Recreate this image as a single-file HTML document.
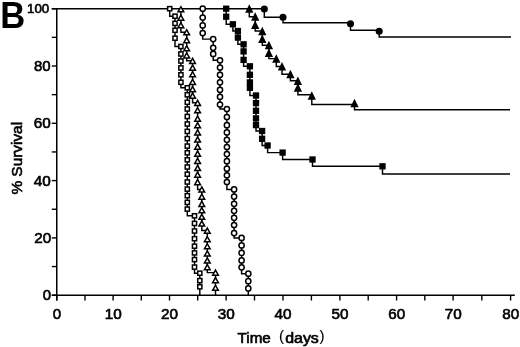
<!DOCTYPE html>
<html><head><meta charset="utf-8"><title>B</title>
<style>html,body{margin:0;padding:0;background:#fff}body{width:520px;height:347px;overflow:hidden}</style>
</head><body>
<svg width="520" height="347" viewBox="0 0 520 347" style="display:block">
<path d="M56.75 8.1 V300.6" fill="none" stroke="#000" stroke-width="1.5"/>
<path d="M51.8 295.3 H514.8" fill="none" stroke="#000" stroke-width="1.5"/>
<path d="M51.8 8.7 H264.3" fill="none" stroke="#000" stroke-width="1.45"/>
<path d="M51.8 295.20 H56.75" stroke="#000" stroke-width="1.4"/>
<path d="M51.8 266.55 H56.75" stroke="#000" stroke-width="1.4"/>
<path d="M51.8 237.90 H56.75" stroke="#000" stroke-width="1.4"/>
<path d="M51.8 209.25 H56.75" stroke="#000" stroke-width="1.4"/>
<path d="M51.8 180.60 H56.75" stroke="#000" stroke-width="1.4"/>
<path d="M51.8 151.95 H56.75" stroke="#000" stroke-width="1.4"/>
<path d="M51.8 123.30 H56.75" stroke="#000" stroke-width="1.4"/>
<path d="M51.8 94.65 H56.75" stroke="#000" stroke-width="1.4"/>
<path d="M51.8 66.00 H56.75" stroke="#000" stroke-width="1.4"/>
<path d="M51.8 37.35 H56.75" stroke="#000" stroke-width="1.4"/>
<path d="M51.8 8.70 H56.75" stroke="#000" stroke-width="1.4"/>
<path d="M56.75 295.2 V300.5" stroke="#000" stroke-width="1.4"/>
<path d="M85.00 295.2 V300.5" stroke="#000" stroke-width="1.4"/>
<path d="M113.10 295.2 V300.5" stroke="#000" stroke-width="1.4"/>
<path d="M141.30 295.2 V300.5" stroke="#000" stroke-width="1.4"/>
<path d="M169.50 295.2 V300.5" stroke="#000" stroke-width="1.4"/>
<path d="M197.70 295.2 V300.5" stroke="#000" stroke-width="1.4"/>
<path d="M226.10 295.2 V300.5" stroke="#000" stroke-width="1.4"/>
<path d="M254.50 295.2 V300.5" stroke="#000" stroke-width="1.4"/>
<path d="M283.00 295.2 V300.5" stroke="#000" stroke-width="1.4"/>
<path d="M311.40 295.2 V300.5" stroke="#000" stroke-width="1.4"/>
<path d="M339.90 295.2 V300.5" stroke="#000" stroke-width="1.4"/>
<path d="M368.20 295.2 V300.5" stroke="#000" stroke-width="1.4"/>
<path d="M396.60 295.2 V300.5" stroke="#000" stroke-width="1.4"/>
<path d="M424.80 295.2 V300.5" stroke="#000" stroke-width="1.4"/>
<path d="M453.10 295.2 V300.5" stroke="#000" stroke-width="1.4"/>
<path d="M481.80 295.2 V300.5" stroke="#000" stroke-width="1.4"/>
<path d="M510.60 295.2 V300.5" stroke="#000" stroke-width="1.4"/>
<path d="M169.7 8.7 V16.2 H175 V23.4 H175 V30.3 H175 V38.2 H175 V46.5 H180.9 V54 H180.9 V61 H180.9 V67.9 H180.9 V74.8 H180.9 V82.3 H180.9 V87.8 H187.3 V94.8 H187.3 V102.3 H187.3 V109 H187.3 V116.5 H187.3 V124 H187.3 V131.4 H187.3 V138.6 H187.3 V146.1 H187.3 V152.8 H187.3 V159.8 H187.3 V167 H187.3 V174.2 H187.3 V182 H187.3 V189.1 H187.3 V195.7 H187.3 V202.4 H187.3 V209.1 H187.3 V215.8 H194.5 V223.4 H194.5 V231 H194.5 V238.7 H194.5 V246.2 H194.5 V252.9 H194.5 V259.6 H194.5 V267.1 H194.5 V273.2 H199.8 V280.6 H199.8 V286.8 H199.8 V295.2" fill="none" stroke="#000" stroke-width="1.45" stroke-linejoin="miter"/>
<rect x="167.62" y="6.62" width="4.15" height="4.15" fill="#fff" stroke="#000" stroke-width="1.5"/>
<rect x="172.93" y="14.12" width="4.15" height="4.15" fill="#fff" stroke="#000" stroke-width="1.5"/>
<rect x="172.93" y="21.32" width="4.15" height="4.15" fill="#fff" stroke="#000" stroke-width="1.5"/>
<rect x="172.93" y="28.23" width="4.15" height="4.15" fill="#fff" stroke="#000" stroke-width="1.5"/>
<rect x="172.93" y="36.12" width="4.15" height="4.15" fill="#fff" stroke="#000" stroke-width="1.5"/>
<rect x="178.83" y="44.42" width="4.15" height="4.15" fill="#fff" stroke="#000" stroke-width="1.5"/>
<rect x="178.83" y="51.92" width="4.15" height="4.15" fill="#fff" stroke="#000" stroke-width="1.5"/>
<rect x="178.83" y="58.92" width="4.15" height="4.15" fill="#fff" stroke="#000" stroke-width="1.5"/>
<rect x="178.83" y="65.83" width="4.15" height="4.15" fill="#fff" stroke="#000" stroke-width="1.5"/>
<rect x="178.83" y="72.72" width="4.15" height="4.15" fill="#fff" stroke="#000" stroke-width="1.5"/>
<rect x="178.83" y="80.22" width="4.15" height="4.15" fill="#fff" stroke="#000" stroke-width="1.5"/>
<rect x="185.23" y="85.72" width="4.15" height="4.15" fill="#fff" stroke="#000" stroke-width="1.5"/>
<rect x="185.23" y="92.72" width="4.15" height="4.15" fill="#fff" stroke="#000" stroke-width="1.5"/>
<rect x="185.23" y="100.22" width="4.15" height="4.15" fill="#fff" stroke="#000" stroke-width="1.5"/>
<rect x="185.23" y="106.92" width="4.15" height="4.15" fill="#fff" stroke="#000" stroke-width="1.5"/>
<rect x="185.23" y="114.42" width="4.15" height="4.15" fill="#fff" stroke="#000" stroke-width="1.5"/>
<rect x="185.23" y="121.92" width="4.15" height="4.15" fill="#fff" stroke="#000" stroke-width="1.5"/>
<rect x="185.23" y="129.33" width="4.15" height="4.15" fill="#fff" stroke="#000" stroke-width="1.5"/>
<rect x="185.23" y="136.53" width="4.15" height="4.15" fill="#fff" stroke="#000" stroke-width="1.5"/>
<rect x="185.23" y="144.03" width="4.15" height="4.15" fill="#fff" stroke="#000" stroke-width="1.5"/>
<rect x="185.23" y="150.73" width="4.15" height="4.15" fill="#fff" stroke="#000" stroke-width="1.5"/>
<rect x="185.23" y="157.73" width="4.15" height="4.15" fill="#fff" stroke="#000" stroke-width="1.5"/>
<rect x="185.23" y="164.93" width="4.15" height="4.15" fill="#fff" stroke="#000" stroke-width="1.5"/>
<rect x="185.23" y="172.12" width="4.15" height="4.15" fill="#fff" stroke="#000" stroke-width="1.5"/>
<rect x="185.23" y="179.93" width="4.15" height="4.15" fill="#fff" stroke="#000" stroke-width="1.5"/>
<rect x="185.23" y="187.03" width="4.15" height="4.15" fill="#fff" stroke="#000" stroke-width="1.5"/>
<rect x="185.23" y="193.62" width="4.15" height="4.15" fill="#fff" stroke="#000" stroke-width="1.5"/>
<rect x="185.23" y="200.33" width="4.15" height="4.15" fill="#fff" stroke="#000" stroke-width="1.5"/>
<rect x="185.23" y="207.03" width="4.15" height="4.15" fill="#fff" stroke="#000" stroke-width="1.5"/>
<rect x="192.43" y="213.73" width="4.15" height="4.15" fill="#fff" stroke="#000" stroke-width="1.5"/>
<rect x="192.43" y="221.33" width="4.15" height="4.15" fill="#fff" stroke="#000" stroke-width="1.5"/>
<rect x="192.43" y="228.93" width="4.15" height="4.15" fill="#fff" stroke="#000" stroke-width="1.5"/>
<rect x="192.43" y="236.62" width="4.15" height="4.15" fill="#fff" stroke="#000" stroke-width="1.5"/>
<rect x="192.43" y="244.12" width="4.15" height="4.15" fill="#fff" stroke="#000" stroke-width="1.5"/>
<rect x="192.43" y="250.83" width="4.15" height="4.15" fill="#fff" stroke="#000" stroke-width="1.5"/>
<rect x="192.43" y="257.53" width="4.15" height="4.15" fill="#fff" stroke="#000" stroke-width="1.5"/>
<rect x="192.43" y="265.03" width="4.15" height="4.15" fill="#fff" stroke="#000" stroke-width="1.5"/>
<rect x="197.73" y="271.12" width="4.15" height="4.15" fill="#fff" stroke="#000" stroke-width="1.5"/>
<rect x="197.73" y="278.53" width="4.15" height="4.15" fill="#fff" stroke="#000" stroke-width="1.5"/>
<rect x="197.73" y="284.73" width="4.15" height="4.15" fill="#fff" stroke="#000" stroke-width="1.5"/>
<path d="M180.9 8.7 V17.6 H180.9 V25.1 H180.9 V32.2 H186.7 V40.1 H186.7 V48.2 H186.7 V55.3 H186.7 V60.8 H192.6 V67.5 H192.6 V74.2 H192.6 V81.8 H192.6 V89 H192.6 V95.6 H192.6 V102.8 H197.6 V110.2 H197.6 V118.5 H197.6 V125.2 H197.6 V132.4 H197.6 V139.4 H197.6 V146.5 H197.6 V153.6 H197.6 V160.8 H197.6 V167.9 H197.6 V174.5 H197.6 V182 H197.6 V189.4 H201.8 V196.6 H201.8 V203.8 H201.8 V210 H201.8 V216.7 H201.8 V223.4 H201.8 V230.5 H207.3 V239 H207.3 V246.2 H207.3 V253.4 H207.3 V260.4 H207.3 V267 H207.3 V272.6 H215.5 V280.1 H215.5 V287.7 H215.5 V295.2" fill="none" stroke="#000" stroke-width="1.45" stroke-linejoin="miter"/>
<polygon points="180.90,6.75 183.75,11.85 178.05,11.85" fill="#fff" stroke="#000" stroke-width="1.5" stroke-linejoin="miter"/>
<polygon points="180.90,15.15 183.75,20.25 178.05,20.25" fill="#fff" stroke="#000" stroke-width="1.5" stroke-linejoin="miter"/>
<polygon points="180.90,22.65 183.75,27.75 178.05,27.75" fill="#fff" stroke="#000" stroke-width="1.5" stroke-linejoin="miter"/>
<polygon points="186.70,29.75 189.55,34.85 183.85,34.85" fill="#fff" stroke="#000" stroke-width="1.5" stroke-linejoin="miter"/>
<polygon points="186.70,37.65 189.55,42.75 183.85,42.75" fill="#fff" stroke="#000" stroke-width="1.5" stroke-linejoin="miter"/>
<polygon points="186.70,45.75 189.55,50.85 183.85,50.85" fill="#fff" stroke="#000" stroke-width="1.5" stroke-linejoin="miter"/>
<polygon points="186.70,52.85 189.55,57.95 183.85,57.95" fill="#fff" stroke="#000" stroke-width="1.5" stroke-linejoin="miter"/>
<polygon points="192.60,58.35 195.45,63.45 189.75,63.45" fill="#fff" stroke="#000" stroke-width="1.5" stroke-linejoin="miter"/>
<polygon points="192.60,65.05 195.45,70.15 189.75,70.15" fill="#fff" stroke="#000" stroke-width="1.5" stroke-linejoin="miter"/>
<polygon points="192.60,71.75 195.45,76.85 189.75,76.85" fill="#fff" stroke="#000" stroke-width="1.5" stroke-linejoin="miter"/>
<polygon points="192.60,79.35 195.45,84.45 189.75,84.45" fill="#fff" stroke="#000" stroke-width="1.5" stroke-linejoin="miter"/>
<polygon points="192.60,86.55 195.45,91.65 189.75,91.65" fill="#fff" stroke="#000" stroke-width="1.5" stroke-linejoin="miter"/>
<polygon points="192.60,93.15 195.45,98.25 189.75,98.25" fill="#fff" stroke="#000" stroke-width="1.5" stroke-linejoin="miter"/>
<polygon points="197.60,100.35 200.45,105.45 194.75,105.45" fill="#fff" stroke="#000" stroke-width="1.5" stroke-linejoin="miter"/>
<polygon points="197.60,107.75 200.45,112.85 194.75,112.85" fill="#fff" stroke="#000" stroke-width="1.5" stroke-linejoin="miter"/>
<polygon points="197.60,116.05 200.45,121.15 194.75,121.15" fill="#fff" stroke="#000" stroke-width="1.5" stroke-linejoin="miter"/>
<polygon points="197.60,122.75 200.45,127.85 194.75,127.85" fill="#fff" stroke="#000" stroke-width="1.5" stroke-linejoin="miter"/>
<polygon points="197.60,129.95 200.45,135.05 194.75,135.05" fill="#fff" stroke="#000" stroke-width="1.5" stroke-linejoin="miter"/>
<polygon points="197.60,136.95 200.45,142.05 194.75,142.05" fill="#fff" stroke="#000" stroke-width="1.5" stroke-linejoin="miter"/>
<polygon points="197.60,144.05 200.45,149.15 194.75,149.15" fill="#fff" stroke="#000" stroke-width="1.5" stroke-linejoin="miter"/>
<polygon points="197.60,151.15 200.45,156.25 194.75,156.25" fill="#fff" stroke="#000" stroke-width="1.5" stroke-linejoin="miter"/>
<polygon points="197.60,158.35 200.45,163.45 194.75,163.45" fill="#fff" stroke="#000" stroke-width="1.5" stroke-linejoin="miter"/>
<polygon points="197.60,165.45 200.45,170.55 194.75,170.55" fill="#fff" stroke="#000" stroke-width="1.5" stroke-linejoin="miter"/>
<polygon points="197.60,172.05 200.45,177.15 194.75,177.15" fill="#fff" stroke="#000" stroke-width="1.5" stroke-linejoin="miter"/>
<polygon points="197.60,179.55 200.45,184.65 194.75,184.65" fill="#fff" stroke="#000" stroke-width="1.5" stroke-linejoin="miter"/>
<polygon points="201.80,186.95 204.65,192.05 198.95,192.05" fill="#fff" stroke="#000" stroke-width="1.5" stroke-linejoin="miter"/>
<polygon points="201.80,194.15 204.65,199.25 198.95,199.25" fill="#fff" stroke="#000" stroke-width="1.5" stroke-linejoin="miter"/>
<polygon points="201.80,201.35 204.65,206.45 198.95,206.45" fill="#fff" stroke="#000" stroke-width="1.5" stroke-linejoin="miter"/>
<polygon points="201.80,207.55 204.65,212.65 198.95,212.65" fill="#fff" stroke="#000" stroke-width="1.5" stroke-linejoin="miter"/>
<polygon points="201.80,214.25 204.65,219.35 198.95,219.35" fill="#fff" stroke="#000" stroke-width="1.5" stroke-linejoin="miter"/>
<polygon points="201.80,220.95 204.65,226.05 198.95,226.05" fill="#fff" stroke="#000" stroke-width="1.5" stroke-linejoin="miter"/>
<polygon points="207.30,228.05 210.15,233.15 204.45,233.15" fill="#fff" stroke="#000" stroke-width="1.5" stroke-linejoin="miter"/>
<polygon points="207.30,236.55 210.15,241.65 204.45,241.65" fill="#fff" stroke="#000" stroke-width="1.5" stroke-linejoin="miter"/>
<polygon points="207.30,243.75 210.15,248.85 204.45,248.85" fill="#fff" stroke="#000" stroke-width="1.5" stroke-linejoin="miter"/>
<polygon points="207.30,250.95 210.15,256.05 204.45,256.05" fill="#fff" stroke="#000" stroke-width="1.5" stroke-linejoin="miter"/>
<polygon points="207.30,257.95 210.15,263.05 204.45,263.05" fill="#fff" stroke="#000" stroke-width="1.5" stroke-linejoin="miter"/>
<polygon points="207.30,264.55 210.15,269.65 204.45,269.65" fill="#fff" stroke="#000" stroke-width="1.5" stroke-linejoin="miter"/>
<polygon points="215.50,270.15 218.35,275.25 212.65,275.25" fill="#fff" stroke="#000" stroke-width="1.5" stroke-linejoin="miter"/>
<polygon points="215.50,277.65 218.35,282.75 212.65,282.75" fill="#fff" stroke="#000" stroke-width="1.5" stroke-linejoin="miter"/>
<polygon points="215.50,285.25 218.35,290.35 212.65,290.35" fill="#fff" stroke="#000" stroke-width="1.5" stroke-linejoin="miter"/>
<path d="M202.7 8.7 V17.6 H202.7 V25.4 H202.7 V33.1 H202.7 V39.1 H213.2 V47.8 H213.2 V53.9 H213.2 V60.3 H220 V67.5 H220 V74.8 H220 V82.3 H220 V89.8 H220 V96.8 H220 V104.5 H220 V109 H226.9 V117 H226.9 V125.2 H226.9 V132.4 H226.9 V139.8 H226.9 V147 H226.9 V154.1 H226.9 V161.2 H226.9 V168.7 H226.9 V175.3 H226.9 V182 H226.9 V189.4 H234.1 V196.6 H234.1 V203.8 H234.1 V210.8 H234.1 V217.8 H234.1 V225 H234.1 V233.1 H234.1 V237.9 H241.6 V245.4 H241.6 V252.9 H241.6 V260.4 H241.6 V267.3 H241.6 V273.7 H248.3 V281.2 H248.3 V288.4 H248.3 V295.2" fill="none" stroke="#000" stroke-width="1.45" stroke-linejoin="miter"/>
<circle cx="202.7" cy="8.7" r="2.6" fill="#fff" stroke="#000" stroke-width="1.5"/>
<circle cx="202.7" cy="17.6" r="2.6" fill="#fff" stroke="#000" stroke-width="1.5"/>
<circle cx="202.7" cy="25.4" r="2.6" fill="#fff" stroke="#000" stroke-width="1.5"/>
<circle cx="202.7" cy="33.1" r="2.6" fill="#fff" stroke="#000" stroke-width="1.5"/>
<circle cx="213.2" cy="39.1" r="2.6" fill="#fff" stroke="#000" stroke-width="1.5"/>
<circle cx="213.2" cy="47.8" r="2.6" fill="#fff" stroke="#000" stroke-width="1.5"/>
<circle cx="213.2" cy="53.9" r="2.6" fill="#fff" stroke="#000" stroke-width="1.5"/>
<circle cx="220" cy="60.3" r="2.6" fill="#fff" stroke="#000" stroke-width="1.5"/>
<circle cx="220" cy="67.5" r="2.6" fill="#fff" stroke="#000" stroke-width="1.5"/>
<circle cx="220" cy="74.8" r="2.6" fill="#fff" stroke="#000" stroke-width="1.5"/>
<circle cx="220" cy="82.3" r="2.6" fill="#fff" stroke="#000" stroke-width="1.5"/>
<circle cx="220" cy="89.8" r="2.6" fill="#fff" stroke="#000" stroke-width="1.5"/>
<circle cx="220" cy="96.8" r="2.6" fill="#fff" stroke="#000" stroke-width="1.5"/>
<circle cx="220" cy="104.5" r="2.6" fill="#fff" stroke="#000" stroke-width="1.5"/>
<circle cx="226.9" cy="109" r="2.6" fill="#fff" stroke="#000" stroke-width="1.5"/>
<circle cx="226.9" cy="117" r="2.6" fill="#fff" stroke="#000" stroke-width="1.5"/>
<circle cx="226.9" cy="125.2" r="2.6" fill="#fff" stroke="#000" stroke-width="1.5"/>
<circle cx="226.9" cy="132.4" r="2.6" fill="#fff" stroke="#000" stroke-width="1.5"/>
<circle cx="226.9" cy="139.8" r="2.6" fill="#fff" stroke="#000" stroke-width="1.5"/>
<circle cx="226.9" cy="147" r="2.6" fill="#fff" stroke="#000" stroke-width="1.5"/>
<circle cx="226.9" cy="154.1" r="2.6" fill="#fff" stroke="#000" stroke-width="1.5"/>
<circle cx="226.9" cy="161.2" r="2.6" fill="#fff" stroke="#000" stroke-width="1.5"/>
<circle cx="226.9" cy="168.7" r="2.6" fill="#fff" stroke="#000" stroke-width="1.5"/>
<circle cx="226.9" cy="175.3" r="2.6" fill="#fff" stroke="#000" stroke-width="1.5"/>
<circle cx="226.9" cy="182" r="2.6" fill="#fff" stroke="#000" stroke-width="1.5"/>
<circle cx="234.1" cy="189.4" r="2.6" fill="#fff" stroke="#000" stroke-width="1.5"/>
<circle cx="234.1" cy="196.6" r="2.6" fill="#fff" stroke="#000" stroke-width="1.5"/>
<circle cx="234.1" cy="203.8" r="2.6" fill="#fff" stroke="#000" stroke-width="1.5"/>
<circle cx="234.1" cy="210.8" r="2.6" fill="#fff" stroke="#000" stroke-width="1.5"/>
<circle cx="234.1" cy="217.8" r="2.6" fill="#fff" stroke="#000" stroke-width="1.5"/>
<circle cx="234.1" cy="225" r="2.6" fill="#fff" stroke="#000" stroke-width="1.5"/>
<circle cx="234.1" cy="233.1" r="2.6" fill="#fff" stroke="#000" stroke-width="1.5"/>
<circle cx="241.6" cy="237.9" r="2.6" fill="#fff" stroke="#000" stroke-width="1.5"/>
<circle cx="241.6" cy="245.4" r="2.6" fill="#fff" stroke="#000" stroke-width="1.5"/>
<circle cx="241.6" cy="252.9" r="2.6" fill="#fff" stroke="#000" stroke-width="1.5"/>
<circle cx="241.6" cy="260.4" r="2.6" fill="#fff" stroke="#000" stroke-width="1.5"/>
<circle cx="241.6" cy="267.3" r="2.6" fill="#fff" stroke="#000" stroke-width="1.5"/>
<circle cx="248.3" cy="273.7" r="2.6" fill="#fff" stroke="#000" stroke-width="1.5"/>
<circle cx="248.3" cy="281.2" r="2.6" fill="#fff" stroke="#000" stroke-width="1.5"/>
<circle cx="248.3" cy="288.4" r="2.6" fill="#fff" stroke="#000" stroke-width="1.5"/>
<path d="M226.2 8.7 V16.7 H226.2 V24.3 H232.9 V31 H237.9 V37.6 H237.9 V44.3 H243.6 V51.4 H243.6 V59.9 H243.6 V66.3 H249.9 V74.8 H249.9 V82.4 H249.9 V87.8 H249.9 V95.5 H256 V103.1 H256 V110.8 H256 V118.4 H256 V125.1 H256 V131 H262.1 V138.8 H262.1 V145.5 H267.6 V152.6 H282.6 V159.5 H312.5 V166.3 H382.5 V174 H510" fill="none" stroke="#000" stroke-width="1.45" stroke-linejoin="miter"/>
<rect x="223.05" y="5.55" width="6.3" height="6.3" fill="#000"/>
<rect x="223.05" y="13.55" width="6.3" height="6.3" fill="#000"/>
<rect x="229.75" y="21.15" width="6.3" height="6.3" fill="#000"/>
<rect x="234.75" y="27.85" width="6.3" height="6.3" fill="#000"/>
<rect x="234.75" y="34.45" width="6.3" height="6.3" fill="#000"/>
<rect x="240.45" y="41.15" width="6.3" height="6.3" fill="#000"/>
<rect x="240.45" y="48.25" width="6.3" height="6.3" fill="#000"/>
<rect x="240.45" y="56.75" width="6.3" height="6.3" fill="#000"/>
<rect x="246.75" y="63.15" width="6.3" height="6.3" fill="#000"/>
<rect x="246.75" y="71.65" width="6.3" height="6.3" fill="#000"/>
<rect x="246.75" y="79.25" width="6.3" height="6.3" fill="#000"/>
<rect x="246.75" y="84.65" width="6.3" height="6.3" fill="#000"/>
<rect x="252.85" y="92.35" width="6.3" height="6.3" fill="#000"/>
<rect x="252.85" y="99.95" width="6.3" height="6.3" fill="#000"/>
<rect x="252.85" y="107.65" width="6.3" height="6.3" fill="#000"/>
<rect x="252.85" y="115.25" width="6.3" height="6.3" fill="#000"/>
<rect x="252.85" y="121.95" width="6.3" height="6.3" fill="#000"/>
<rect x="258.95" y="127.85" width="6.3" height="6.3" fill="#000"/>
<rect x="258.95" y="135.65" width="6.3" height="6.3" fill="#000"/>
<rect x="264.45" y="142.35" width="6.3" height="6.3" fill="#000"/>
<rect x="279.45" y="149.45" width="6.3" height="6.3" fill="#000"/>
<rect x="309.35" y="156.35" width="6.3" height="6.3" fill="#000"/>
<rect x="379.35" y="163.15" width="6.3" height="6.3" fill="#000"/>
<path d="M249.3 8.7 V16.7 H255.2 V24.8 H255.2 V31 H262.3 V38.8 H262.3 V45.2 H268.9 V52.9 H268.9 V58.6 H276.3 V66.4 H282 V74.2 H290.4 V80.8 H297.9 V87.5 H297.9 V94.7 H311.8 V104.5 H354.5 V109.8 H510" fill="none" stroke="#000" stroke-width="1.45" stroke-linejoin="miter"/>
<polygon points="249.30,4.35 253.45,12.85 245.15,12.85" fill="#000"/>
<polygon points="255.20,12.35 259.35,20.85 251.05,20.85" fill="#000"/>
<polygon points="255.20,20.45 259.35,28.95 251.05,28.95" fill="#000"/>
<polygon points="262.30,26.65 266.45,35.15 258.15,35.15" fill="#000"/>
<polygon points="262.30,34.45 266.45,42.95 258.15,42.95" fill="#000"/>
<polygon points="268.90,40.85 273.05,49.35 264.75,49.35" fill="#000"/>
<polygon points="268.90,48.55 273.05,57.05 264.75,57.05" fill="#000"/>
<polygon points="276.30,54.25 280.45,62.75 272.15,62.75" fill="#000"/>
<polygon points="282.00,62.05 286.15,70.55 277.85,70.55" fill="#000"/>
<polygon points="290.40,69.85 294.55,78.35 286.25,78.35" fill="#000"/>
<polygon points="297.90,76.45 302.05,84.95 293.75,84.95" fill="#000"/>
<polygon points="297.90,83.15 302.05,91.65 293.75,91.65" fill="#000"/>
<polygon points="311.80,91.15 315.95,99.65 307.65,99.65" fill="#000"/>
<polygon points="354.50,98.85 358.65,107.35 350.35,107.35" fill="#000"/>
<path d="M264.3 8.7 V17.3 H283 V22.7 H350.5 V30.2 H379.2 V37 H511" fill="none" stroke="#000" stroke-width="1.45" stroke-linejoin="miter"/>
<circle cx="264.3" cy="9" r="3.55" fill="#000"/>
<circle cx="283" cy="17.3" r="3.55" fill="#000"/>
<circle cx="350.5" cy="23.7" r="3.55" fill="#000"/>
<circle cx="379.2" cy="31.2" r="3.55" fill="#000"/>
<text x="51.1" y="300.10" text-anchor="end" style="font-family:'Liberation Sans',sans-serif;font-size:14px;fill:#000;stroke:#000;stroke-width:0.6px;font-size:14.3px" textLength="8.3" lengthAdjust="spacingAndGlyphs">0</text>
<text x="51.2" y="242.80" text-anchor="end" style="font-family:'Liberation Sans',sans-serif;font-size:14px;fill:#000;stroke:#000;stroke-width:0.6px;font-size:14.3px" textLength="17.0" lengthAdjust="spacingAndGlyphs">20</text>
<text x="50.8" y="185.50" text-anchor="end" style="font-family:'Liberation Sans',sans-serif;font-size:14px;fill:#000;stroke:#000;stroke-width:0.6px;font-size:14.3px" textLength="17.0" lengthAdjust="spacingAndGlyphs">40</text>
<text x="50.8" y="128.20" text-anchor="end" style="font-family:'Liberation Sans',sans-serif;font-size:14px;fill:#000;stroke:#000;stroke-width:0.6px;font-size:14.3px" textLength="17.0" lengthAdjust="spacingAndGlyphs">60</text>
<text x="50.6" y="70.90" text-anchor="end" style="font-family:'Liberation Sans',sans-serif;font-size:14px;fill:#000;stroke:#000;stroke-width:0.6px;font-size:14.3px" textLength="16.6" lengthAdjust="spacingAndGlyphs">80</text>
<text x="49.2" y="13.05" text-anchor="end" style="font-family:'Liberation Sans',sans-serif;font-size:14px;fill:#000;stroke:#000;stroke-width:0.6px;font-size:12.9px" textLength="22.2" lengthAdjust="spacingAndGlyphs">100</text>
<text x="56.85" y="318.9" text-anchor="middle" style="font-family:'Liberation Sans',sans-serif;font-size:14px;fill:#000;stroke:#000;stroke-width:0.6px;font-size:14.3px" textLength="8.4" lengthAdjust="spacingAndGlyphs">0</text>
<text x="113.20" y="318.9" text-anchor="middle" style="font-family:'Liberation Sans',sans-serif;font-size:14px;fill:#000;stroke:#000;stroke-width:0.6px;font-size:14.3px" textLength="17.0" lengthAdjust="spacingAndGlyphs">10</text>
<text x="169.60" y="318.9" text-anchor="middle" style="font-family:'Liberation Sans',sans-serif;font-size:14px;fill:#000;stroke:#000;stroke-width:0.6px;font-size:14.3px" textLength="17.0" lengthAdjust="spacingAndGlyphs">20</text>
<text x="226.20" y="318.9" text-anchor="middle" style="font-family:'Liberation Sans',sans-serif;font-size:14px;fill:#000;stroke:#000;stroke-width:0.6px;font-size:14.3px" textLength="17.0" lengthAdjust="spacingAndGlyphs">30</text>
<text x="283.10" y="318.9" text-anchor="middle" style="font-family:'Liberation Sans',sans-serif;font-size:14px;fill:#000;stroke:#000;stroke-width:0.6px;font-size:14.3px" textLength="17.0" lengthAdjust="spacingAndGlyphs">40</text>
<text x="340.00" y="318.9" text-anchor="middle" style="font-family:'Liberation Sans',sans-serif;font-size:14px;fill:#000;stroke:#000;stroke-width:0.6px;font-size:14.3px" textLength="17.0" lengthAdjust="spacingAndGlyphs">50</text>
<text x="396.70" y="318.9" text-anchor="middle" style="font-family:'Liberation Sans',sans-serif;font-size:14px;fill:#000;stroke:#000;stroke-width:0.6px;font-size:14.3px" textLength="17.0" lengthAdjust="spacingAndGlyphs">60</text>
<text x="453.20" y="318.9" text-anchor="middle" style="font-family:'Liberation Sans',sans-serif;font-size:14px;fill:#000;stroke:#000;stroke-width:0.6px;font-size:14.3px" textLength="17.0" lengthAdjust="spacingAndGlyphs">70</text>
<text x="510.70" y="318.9" text-anchor="middle" style="font-family:'Liberation Sans',sans-serif;font-size:14px;fill:#000;stroke:#000;stroke-width:0.6px;font-size:14.3px" textLength="17.0" lengthAdjust="spacingAndGlyphs">80</text>
<text x="0.3" y="27.9" textLength="25.0" lengthAdjust="spacingAndGlyphs" style="font-family:'Liberation Sans',sans-serif;font-size:37.4px;font-weight:bold;fill:#000">B</text>
<text transform="translate(22.3,194.6) rotate(-90)" style="font-family:'Liberation Sans',sans-serif;font-size:14px;fill:#000;stroke:#000;stroke-width:0.6px;font-size:15.4px">% Survival</text>
<text x="237.6" y="342.9" style="font-family:'Liberation Sans',sans-serif;font-size:14px;fill:#000;stroke:#000;stroke-width:0.6px" textLength="33.2" lengthAdjust="spacingAndGlyphs">Time</text>
<text x="279.0" y="341.0" style="font-family:'Liberation Sans',sans-serif;font-size:14px;fill:#000;stroke:#000;stroke-width:0.6px;stroke-width:0.1px;font-size:15.2px">(</text>
<text x="285.2" y="342.9" style="font-family:'Liberation Sans',sans-serif;font-size:14px;fill:#000;stroke:#000;stroke-width:0.6px" textLength="33.6" lengthAdjust="spacingAndGlyphs">days</text>
<text x="319.6" y="341.0" style="font-family:'Liberation Sans',sans-serif;font-size:14px;fill:#000;stroke:#000;stroke-width:0.6px;stroke-width:0.1px;font-size:15.2px">)</text>
</svg>
</body></html>
